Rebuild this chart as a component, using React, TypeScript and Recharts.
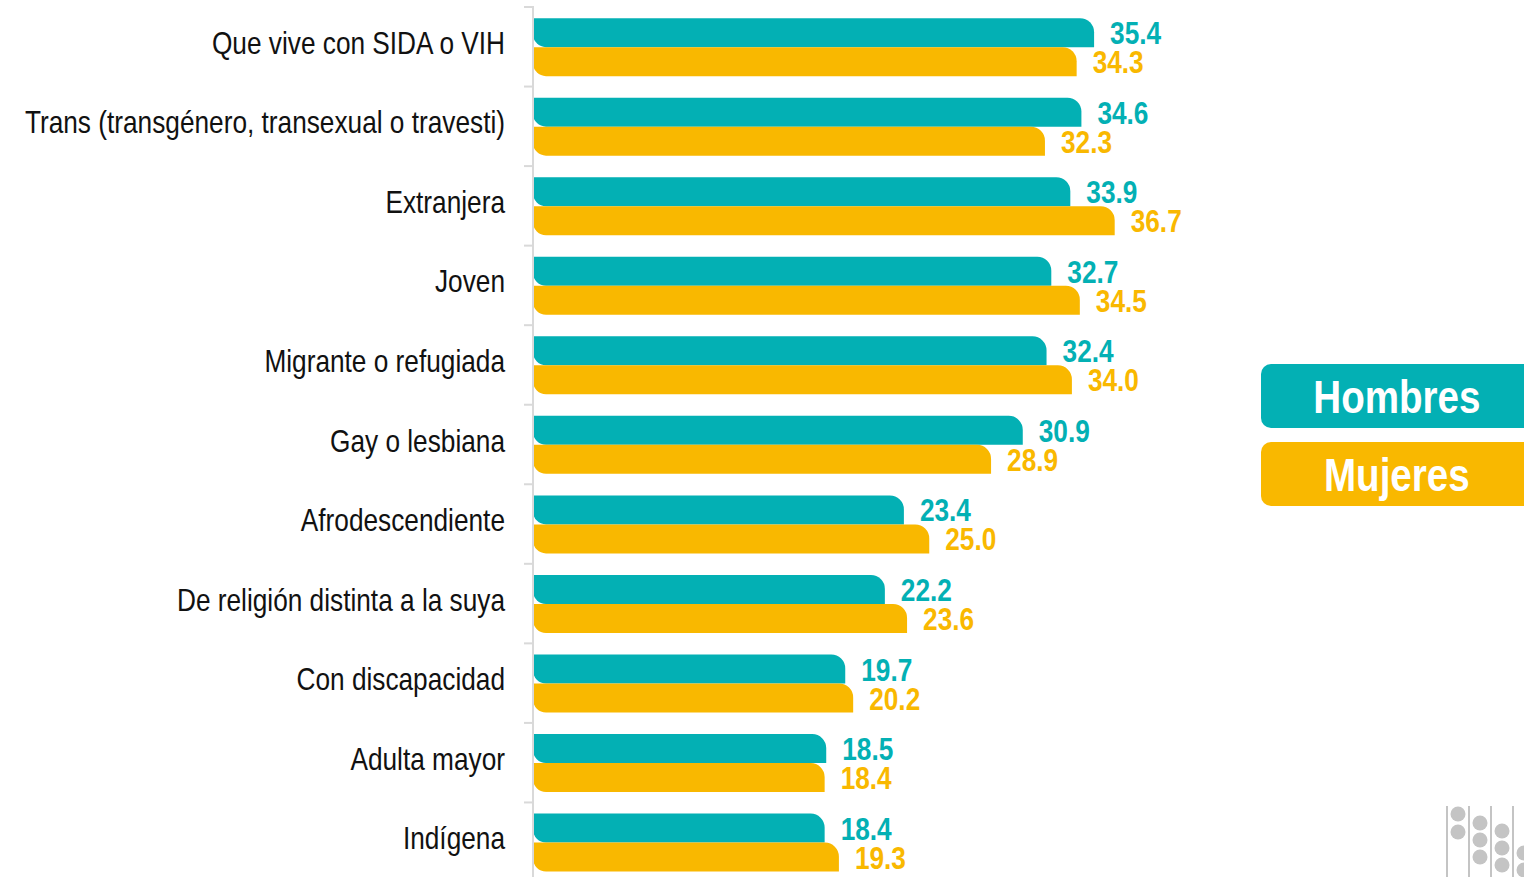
import React from "react";
import { Bar, BarChart, LabelList, Legend, XAxis, YAxis } from "recharts";

const categories = [
  "Que vive con SIDA o VIH",
  "Trans (transgénero, transexual o travesti)",
  "Extranjera",
  "Joven",
  "Migrante o refugiada",
  "Gay o lesbiana",
  "Afrodescendiente",
  "De religión distinta a la suya",
  "Con discapacidad",
  "Adulta mayor",
  "Indígena",
];

const hombres = [35.4, 34.6, 33.9, 32.7, 32.4, 30.9, 23.4, 22.2, 19.7, 18.5, 18.4];
const mujeres = [34.3, 32.3, 36.7, 34.5, 34.0, 28.9, 25.0, 23.6, 20.2, 18.4, 19.3];

const TEAL = "#03b0b4";
const GOLD = "#f9b800";
const GRID = "#d9d9d9";
// Arial Narrow is not installed: use Liberation Sans squeezed horizontally
const FONT = "'Liberation Sans', Arial, sans-serif";
const NARROW = 0.82;

const WIDTH = 1524;
const HEIGHT = 882;
const MARGIN = { top: 7, right: 40, bottom: 0, left: 0 };
const AXIS_WIDTH = 533;

const data = categories.map((name, i) => ({
  name,
  hombres: hombres[i],
  mujeres: mujeres[i],
}));

const step = (HEIGHT - MARGIN.top - MARGIN.bottom) / categories.length;

function CategoryTick(props: any) {
  const { x, y, payload } = props;
  return (
    <g>
      <line x1={x + 19} x2={x + 29} y1={y - step / 2} y2={y - step / 2} stroke={GRID} strokeWidth={2} />
      <text
        transform={`translate(${x},${y}) scale(${NARROW},1)`}
        x={0}
        y={0}
        dy={7}
        textAnchor="end"
        fontFamily={FONT}
        fontSize={32}
        fill="#111"
      >
        {payload.value}
      </text>
    </g>
  );
}

const valueLabel = (color: string) => (props: any) => {
  const { x, y, width, height, value } = props;
  const lx = Number(x) + Number(width) + 16;
  const ly = Number(y) + Number(height) / 2;
  return (
    <text
      transform={`translate(${lx},${ly}) scale(${NARROW},1)`}
      x={0}
      y={0}
      dy={11.5}
      fontFamily={FONT}
      fontWeight={700}
      fontSize={32}
      fill={color}
    >
      {Number(value).toFixed(1)}
    </text>
  );
};

function LegendBoxes() {
  const box = (label: string, color: string) => (
    <div
      style={{
        background: color,
        color: "#fff",
        height: 64,
        borderRadius: 10,
        marginBottom: 14,
        display: "flex",
        alignItems: "center",
        justifyContent: "center",
        fontFamily: FONT,
        fontWeight: 700,
        fontSize: 47,
        paddingRight: 12,
      }}
    >
      <span style={{ display: "inline-block", transform: `scaleX(${NARROW})` }}>{label}</span>
    </div>
  );
  return (
    <div>
      {box("Hombres", TEAL)}
      {box("Mujeres", GOLD)}
    </div>
  );
}

function Logo() {
  const cols = [
    { cx: 1458, ys: [814, 832] },
    { cx: 1480, ys: [823, 840, 857] },
    { cx: 1502, ys: [831, 848, 865] },
    { cx: 1524, ys: [853, 870] },
  ];
  return (
    <svg width={WIDTH} height={877} style={{ position: "absolute", left: 0, top: 0, pointerEvents: "none" }}>
      {[1447, 1469, 1491, 1513].map((lx) => (
        <line key={lx} x1={lx} x2={lx} y1={806} y2={877} stroke="#c4c4c4" strokeWidth={2} />
      ))}
      {cols.map((c) =>
        c.ys.map((cy) => <circle key={`${c.cx}-${cy}`} cx={c.cx} cy={cy} r={7.5} fill="#c4c4c4" />)
      )}
    </svg>
  );
}

export default function App() {
  return (
    <div style={{ position: "absolute", left: 0, top: 0, width: WIDTH, height: 877, overflow: "hidden", background: "#fff" }}>
      <BarChart
        width={WIDTH}
        height={HEIGHT}
        data={data}
        layout="vertical"
        margin={MARGIN}
        barCategoryGap="14%"
        barGap={0}
      >
        <XAxis type="number" domain={[0, 60]} hide />
        <YAxis
          type="category"
          dataKey="name"
          width={AXIS_WIDTH}
          tickLine={false}
          axisLine={{ stroke: GRID, strokeWidth: 2 }}
          tick={<CategoryTick />}
          tickMargin={22}
          interval={0}
        />
        <Legend
          layout="horizontal"
          align="center"
          verticalAlign="middle"
          content={<LegendBoxes />}
          wrapperStyle={{ left: 1261, top: 364, width: 283 }}
        />
        <Bar dataKey="hombres" name="Hombres" fill={TEAL} radius={[0, 14, 0, 13]} isAnimationActive={false}>
          <LabelList dataKey="hombres" content={valueLabel(TEAL)} />
        </Bar>
        <Bar dataKey="mujeres" name="Mujeres" fill={GOLD} radius={[0, 14, 0, 13]} isAnimationActive={false}>
          <LabelList dataKey="mujeres" content={valueLabel(GOLD)} />
        </Bar>
      </BarChart>
      <Logo />
    </div>
  );
}
